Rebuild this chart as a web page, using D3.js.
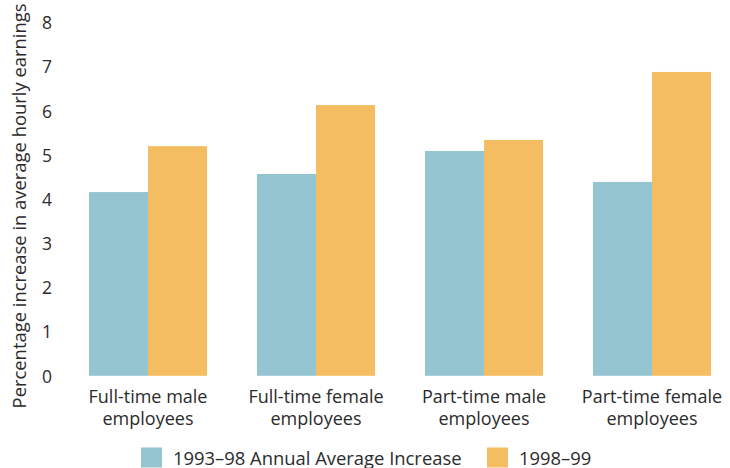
<!DOCTYPE html>
<html>
<head>
<meta charset="utf-8">
<script src="https://cdn.jsdelivr.net/npm/d3@7"></script>
<style>
  html, body { margin: 0; padding: 0; background: #fff; }
  svg text { font-family: "Open Sans", "Noto Sans", sans-serif; fill: #2b2b2b; }
</style>
</head>
<body>
<svg id="chart" width="730" height="468"></svg>
<script>
// Earnings growth by employee group
const categories = [
  ["Full-time male", "employees"],
  ["Full-time female", "employees"],
  ["Part-time male", "employees"],
  ["Part-time female", "employees"]
];
const seriesNames = ["1993–98 Annual Average Increase", "1998–99"];
const avg9398 = [4.16, 4.57, 5.09, 4.39];
const yr9899 = [5.20, 6.13, 5.34, 6.88];
const yTicks = [0, 1, 2, 3, 4, 5, 6, 7, 8];
const colors = ["#95c4d1", "#f4bd62"];
const yTitle = "Percentage increase in average hourly earnings";

const svg = d3.select("#chart");

const x = d3.scaleBand()
  .domain(d3.range(categories.length))
  .range([89, 711])
  .paddingInner(0.2976)
  .paddingOuter(0);

const xSub = d3.scaleBand()
  .domain([0, 1])
  .range([0, x.bandwidth()]);

const y = d3.scaleLinear().domain([0, 8]).range([375.8, 22.5]);

// y axis labels (no axis line or tick marks)
const yAxis = d3.axisLeft(y).tickValues(yTicks).tickSize(0).tickPadding(0);
const yg = svg.append("g").attr("transform", "translate(52,0)").call(yAxis);
yg.select(".domain").remove();
yg.selectAll("text")
  .attr("font-size", 17.5)
  .attr("font-family", null)
  .attr("fill", null)
  .attr("dy", "0.36em");

// y axis title
svg.append("text")
  .attr("transform", "translate(26,206) rotate(-90)")
  .attr("text-anchor", "middle")
  .attr("font-size", 18.4)
  .text(yTitle);

// bars
const data = categories.map((c, i) => [avg9398[i], yr9899[i]]);
const groups = svg.append("g").selectAll("g")
  .data(data)
  .join("g")
  .attr("transform", (d, i) => `translate(${x(i)},0)`);

groups.selectAll("rect")
  .data(d => d)
  .join("rect")
  .attr("x", (d, j) => xSub(j))
  .attr("width", xSub.bandwidth())
  .attr("y", d => y(d))
  .attr("height", d => y(0) - y(d))
  .attr("fill", (d, j) => colors[j]);

// category labels, two lines each
const labels = svg.append("g").selectAll("text")
  .data(categories)
  .join("text")
  .attr("text-anchor", "middle")
  .attr("font-size", 18)
  .attr("x", (d, i) => x(i) + x.bandwidth() / 2)
  .attr("y", 402.5);
labels.selectAll("tspan")
  .data(d => d)
  .join("tspan")
  .attr("x", function () { return d3.select(this.parentNode).attr("x"); })
  .attr("dy", (d, j) => j === 0 ? 0 : 22.5)
  .text(d => d);

// legend
const legendItems = [
  { name: seriesNames[0], color: colors[0], x: 141 },
  { name: seriesNames[1], color: colors[1], x: 487 }
];
const lg = svg.append("g").selectAll("g")
  .data(legendItems)
  .join("g")
  .attr("transform", d => `translate(${d.x},447.5)`);
lg.append("rect").attr("width", 21).attr("height", 20).attr("fill", d => d.color);
lg.append("text")
  .attr("x", 32)
  .attr("y", 17)
  .attr("font-size", 18.4)
  .text(d => d.name);
</script>
</body>
</html>
